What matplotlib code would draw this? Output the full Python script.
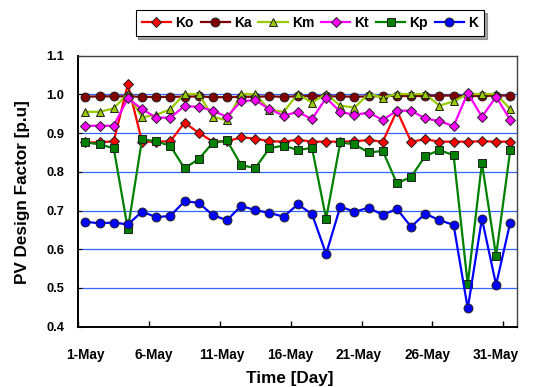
import matplotlib
matplotlib.use("Agg")
import matplotlib.pyplot as plt
import numpy as np

plt.rcParams['font.family'] = ['Liberation Sans', 'DejaVu Sans']
plt.rcParams['font.weight'] = 'bold'

days = list(range(1, 32))
x_labels = ["1-May", "6-May", "11-May", "16-May", "21-May", "26-May", "31-May"]

Ko = [0.876, 0.876, 0.879, 1.026, 0.878, 0.878, 0.879, 0.927, 0.901, 0.878,
      0.879, 0.889, 0.886, 0.879, 0.878, 0.883, 0.878, 0.878, 0.878, 0.879,
      0.882, 0.878, 0.958, 0.878, 0.884, 0.878, 0.878, 0.878, 0.879, 0.878,
      0.878]
Ka = [0.994, 0.995, 0.995, 0.995, 0.994, 0.993, 0.994, 0.994, 0.995, 0.993,
      0.993, 0.994, 0.994, 0.995, 0.994, 0.995, 0.996, 0.995, 0.995, 0.994,
      0.995, 0.996, 0.996, 0.996, 0.996, 0.997, 0.997, 0.996, 0.996, 0.997,
      0.997]
Km = [0.955, 0.955, 0.964, 1.002, 0.941, 0.947, 0.962, 1.001, 1.001, 0.942,
      0.933, 1.001, 1.001, 0.960, 0.955, 1.001, 0.979, 1.001, 0.971, 0.966,
      1.001, 0.992, 1.001, 1.001, 1.001, 0.971, 0.982, 1.001, 1.001, 1.001,
      0.962]
Kt = [0.919, 0.919, 0.919, 0.990, 0.962, 0.940, 0.940, 0.970, 0.968, 0.958,
      0.942, 0.983, 0.985, 0.962, 0.945, 0.955, 0.936, 0.991, 0.955, 0.947,
      0.953, 0.934, 0.958, 0.958, 0.938, 0.931, 0.918, 1.004, 0.942, 0.994,
      0.934]
Kp = [0.876, 0.871, 0.861, 0.652, 0.884, 0.879, 0.867, 0.809, 0.833, 0.875,
      0.881, 0.817, 0.810, 0.861, 0.868, 0.856, 0.862, 0.679, 0.876, 0.871,
      0.850, 0.854, 0.770, 0.787, 0.841, 0.856, 0.843, 0.509, 0.823, 0.583,
      0.856]
K = [0.671, 0.667, 0.669, 0.664, 0.697, 0.683, 0.686, 0.724, 0.720, 0.688,
     0.675, 0.712, 0.701, 0.694, 0.684, 0.716, 0.691, 0.588, 0.710, 0.697,
     0.707, 0.689, 0.704, 0.658, 0.692, 0.675, 0.663, 0.447, 0.679, 0.508,
     0.669]

series = [
    ("Ko", Ko, "#FF0000", "#FF0000", "D", 4.8),
    ("Ka", Ka, "#800000", "#800000", "o", 6.4),
    ("Km", Km, "#99CC00", "#99CC00", "^", 6.2),
    ("Kt", Kt, "#FF00FF", "#FF00FF", "D", 5.2),
    ("Kp", Kp, "#008000", "#008000", "s", 6.2),
    ("K", K, "#0000FF", "#0000FF", "o", 6.4),
]

fig = plt.figure(figsize=(5.4, 3.87), dpi=100)
ax = fig.add_axes([0.145, 0.156, 0.813, 0.700])

for i, (name, vals, lc, fc, mk, ms) in enumerate(series):
    ax.plot(days, vals, color=lc, lw=1.6, marker=mk, markersize=ms,
            markerfacecolor=fc, markeredgecolor="#202020", markeredgewidth=0.7,
            label=name, zorder=3 + i, clip_on=False)

ax.set_xlim(0.5, 31.5)
ax.set_ylim(0.4, 1.1)
ax.set_yticks(np.arange(0.4, 1.101, 0.1))
ax.set_yticklabels([f"{v:.1f}" for v in np.arange(0.4, 1.101, 0.1)])
for v in np.arange(0.5, 1.01, 0.1):
    ax.axhline(v, color="#3366FF", lw=0.9, zorder=1)

ax.set_xticks(np.arange(0.5, 31, 5))
ax.set_xticklabels([])
ax.tick_params(axis='x', direction='in', length=4, width=1, colors='black')
ax.tick_params(axis='y', direction='in', length=3, width=0.8, labelsize=9.3, pad=10)

label_pos = [1 + k * 4.83 for k in range(len(x_labels))]
for pos, lab in zip(label_pos, x_labels):
    ax.text(pos, -0.08, lab, transform=ax.get_xaxis_transform(), ha='center',
            va='top', fontsize=9.8, fontweight='bold')

for s in ['left', 'bottom']:
    ax.spines[s].set_linewidth(1.4)
    ax.spines[s].set_color('black')
for s in ['top', 'right']:
    ax.spines[s].set_linewidth(1.0)
    ax.spines[s].set_color('#404040')

fig.text(0.041, 0.505, "PV Design Factor [p.u]", rotation=90, ha='center',
         va='center', fontsize=12.3, fontweight='bold')
fig.text(0.537, 0.003, "Time [Day]", ha='center', va='bottom', fontsize=12.3,
         fontweight='bold')

leg = fig.legend(loc='center', bbox_to_anchor=(0.574, 0.94), ncol=6,
                 frameon=True, fancybox=False, shadow=True, fontsize=10,
                 handlelength=2.1, columnspacing=0.5, handletextpad=0.3,
                 borderpad=0.45, borderaxespad=0)
leg.get_frame().set_edgecolor('black')
leg.get_frame().set_linewidth(0.8)
for t in leg.get_texts():
    t.set_fontweight('bold')

fig.savefig("out.png", dpi=100)
